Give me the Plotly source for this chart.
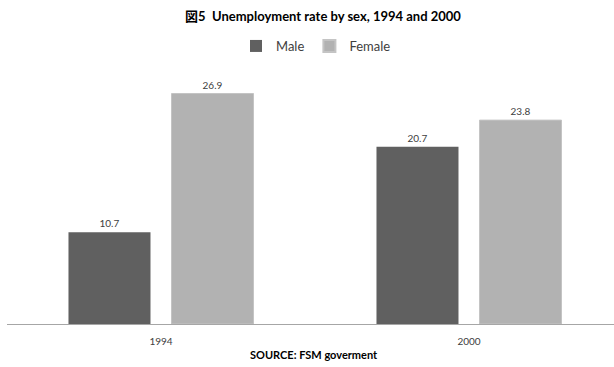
import plotly.graph_objects as go

years = ["1994", "2000"]
male = [10.7, 20.7]
female = [26.9, 23.8]

FONT = "Lato, 'Noto Sans CJK JP', sans-serif"
H = 367

fig = go.Figure()
fig.add_trace(go.Bar(name="Male", x=years, y=male, marker=dict(color="#606060", line=dict(width=0)),
                     text=[f"{v:.1f}" for v in male], textposition="outside",
                     textfont=dict(size=10, color="#404040"), cliponaxis=False))
fig.add_trace(go.Bar(name="Female", x=years, y=female, marker=dict(color="#b2b2b2", line=dict(width=1, color="#c4c4c4")),
                     text=[f"{v:.1f}" for v in female], textposition="outside",
                     textfont=dict(size=10, color="#404040"), cliponaxis=False))

fig.update_layout(
    width=614, height=H,
    margin=dict(l=7, r=0, t=67, b=43),
    paper_bgcolor="white", plot_bgcolor="white",
    font=dict(family=FONT, color="#404040"),
    barmode="group", bargap=0.331, bargroupgap=0.204,
    showlegend=True,
    legend=dict(orientation="h", x=316/614, xanchor="center", y=1 - 46/H, yref="container", yanchor="middle",
                xref="container", font=dict(size=13, color="#404040"), itemwidth=30, traceorder="normal",
                itemsizing="constant"),
    title=dict(text="<b>図5  Unemployment rate by sex, 1994 and 2000</b>", x=323/614, xanchor="center",
               xref="container", y=1 - 16/H, yanchor="middle", font=dict(size=13, color="#000000", family=FONT)),
    xaxis=dict(showline=True, linecolor="#a6a6a6", linewidth=1, ticks="", showgrid=False,
               range=[-0.5, 1.4708], ticklabelstandoff=8,
               tickfont=dict(size=10, color="#404040")),
    yaxis=dict(range=[0, 30], visible=False, showgrid=False),
)
fig.add_annotation(text="<b>SOURCE: FSM goverment</b>", xref="paper", yref="paper",
                   x=(314 - 7) / 607, y=-(354 - 324) / 257,
                   xanchor="center", yanchor="middle", showarrow=False, font=dict(size=11, color="#000000"))
fig.write_html("out.html")
